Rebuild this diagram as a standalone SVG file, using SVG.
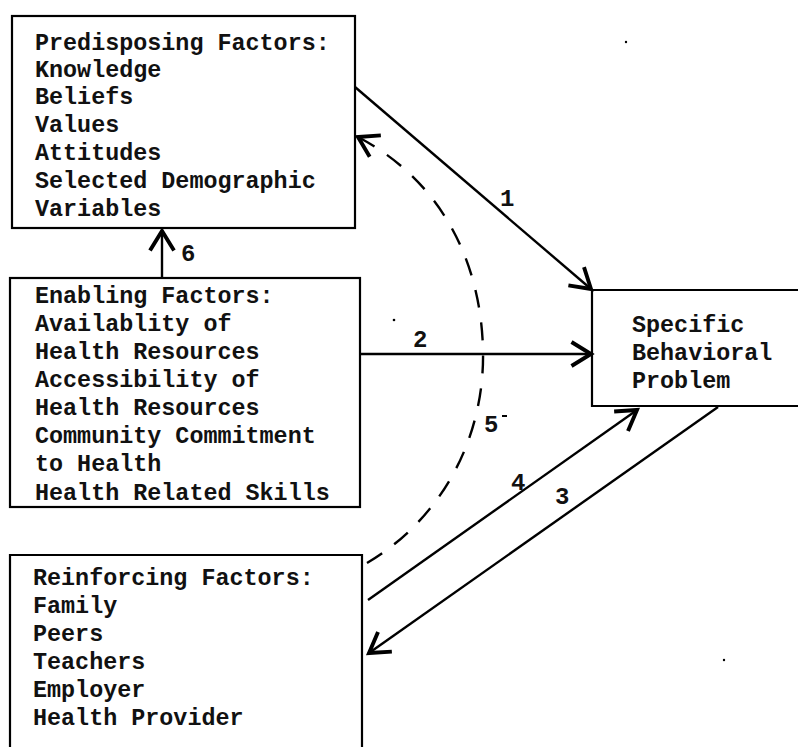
<svg xmlns="http://www.w3.org/2000/svg" width="798" height="747" viewBox="0 0 798 747">
<style>
.box{fill:none;stroke:#000;stroke-width:2.2}
.t{font-family:"Liberation Mono","DejaVu Sans Mono",monospace;font-size:23.4px;font-weight:bold;fill:#111}
.n{font-family:"Liberation Mono","DejaVu Sans Mono",monospace;font-size:24px;font-weight:bold;fill:#111}
.c{fill:none;stroke:#000;stroke-width:2.4}
.d{fill:none;stroke:#000;stroke-width:2.4;stroke-dasharray:18 15}
</style>
<defs>
<marker id="ah" markerUnits="userSpaceOnUse" markerWidth="30" markerHeight="30" refX="0" refY="0" viewBox="-16 -10 20 20" orient="auto" overflow="visible">
<path d="M -13 -8 L 0 0 L -13 8" fill="none" stroke="#000" stroke-width="2.6"/>
</marker>
</defs>
<rect width="798" height="747" fill="#fff"/>
<g id="predisposing">
<rect class="box" x="12" y="16" width="343" height="212"/>
<text class="t" x="35" y="50">Predisposing Factors:</text>
<text class="t" x="35" y="77">Knowledge</text>
<text class="t" x="35" y="104">Beliefs</text>
<text class="t" x="35" y="132">Values</text>
<text class="t" x="35" y="160">Attitudes</text>
<text class="t" x="35" y="188">Selected Demographic</text>
<text class="t" x="35" y="216">Variables</text>
</g>
<g id="enabling">
<rect class="box" x="10" y="278" width="350" height="229"/>
<text class="t" x="35" y="303">Enabling Factors:</text>
<text class="t" x="35" y="331">Availablity of</text>
<text class="t" x="35" y="359">Health Resources</text>
<text class="t" x="35" y="387">Accessibility of</text>
<text class="t" x="35" y="415">Health Resources</text>
<text class="t" x="35" y="443">Community Commitment</text>
<text class="t" x="35" y="471">to Health</text>
<text class="t" x="35" y="500">Health Related Skills</text>
</g>
<g id="reinforcing">
<path class="box" d="M 10 750 L 10 555 L 362 555 L 362 750"/>
<text class="t" x="33" y="585">Reinforcing Factors:</text>
<text class="t" x="33" y="613">Family</text>
<text class="t" x="33" y="641">Peers</text>
<text class="t" x="33" y="669">Teachers</text>
<text class="t" x="33" y="697">Employer</text>
<text class="t" x="33" y="725">Health Provider</text>
</g>
<g id="problem">
<path class="box" d="M 800 290 L 592 290 L 592 406 L 800 406"/>
<text class="t" x="632" y="332">Specific</text>
<text class="t" x="632" y="360">Behavioral</text>
<text class="t" x="632" y="388">Problem</text>
</g>
<g id="connectors">
<line class="c" x1="355" y1="87" x2="591" y2="289" marker-end="url(#ah)"/>
<line class="c" x1="360" y1="354" x2="591" y2="354" marker-end="url(#ah)"/>
<line class="c" x1="368" y1="600" x2="637" y2="410" marker-end="url(#ah)"/>
<line class="c" x1="718" y1="407" x2="369" y2="653" marker-end="url(#ah)"/>
<line class="c" x1="162" y1="278" x2="162" y2="231" marker-end="url(#ah)"/>
<path class="d" d="M 367 563 C 440 520 485 440 483 350 C 481 260 440 180 358 137" marker-end="url(#ah)"/>
<text class="n" x="500" y="206">1</text>
<text class="n" x="413" y="347">2</text>
<text class="n" x="555" y="504">3</text>
<text class="n" x="511" y="490">4</text>
<text class="n" x="484" y="432">5</text>
<line x1="502" y1="416" x2="507" y2="416" stroke="#000" stroke-width="2"/>
<text class="n" x="181" y="261">6</text>
</g>
<circle cx="394" cy="320" r="1.3" fill="#000"/>
<circle cx="626" cy="42" r="1.2" fill="#000"/>
<circle cx="724" cy="660" r="1.2" fill="#000"/>
</svg>
